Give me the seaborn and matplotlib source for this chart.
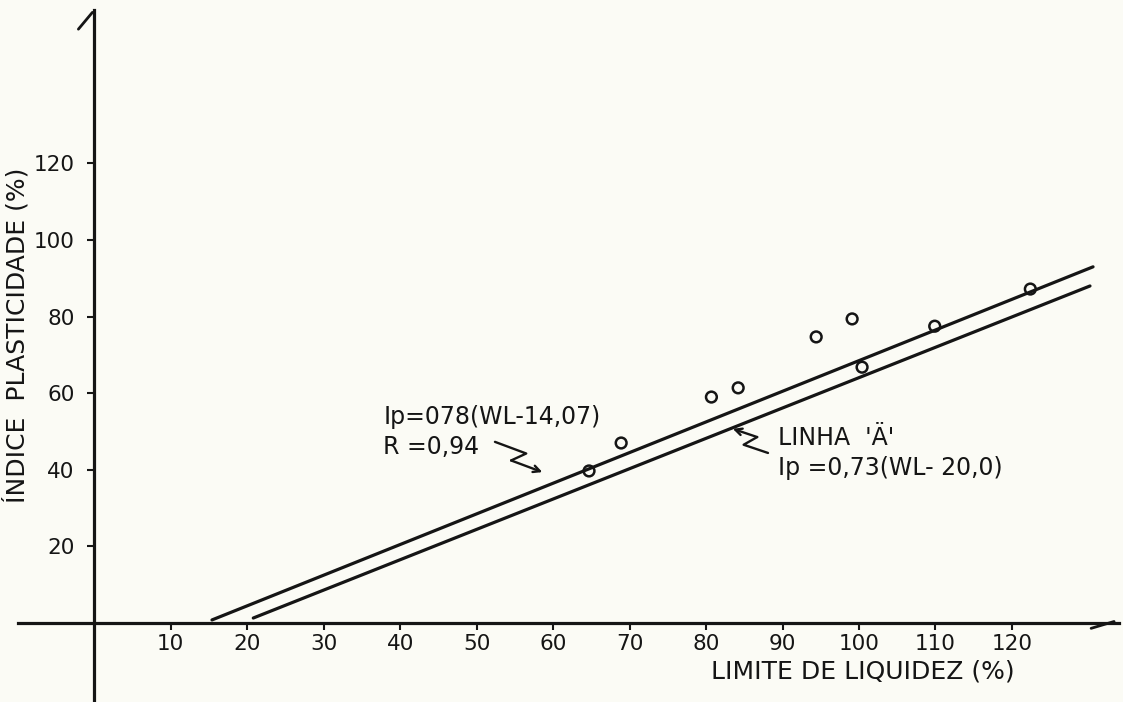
import numpy as np
import pandas as pd
import matplotlib
matplotlib.use("Agg")
import matplotlib.pyplot as plt
import seaborn as sns

# ---------------- data ----------------
liquid_limit = [64.7, 68.9, 80.7, 84.2, 94.4, 99.1, 100.4, 109.9, 122.4]
plasticity_index = [39.7, 47.0, 59.0, 61.4, 74.7, 79.4, 66.8, 77.5, 87.2]

regression_wl = [15.4, 130.6]
regression_ip = [0.8, 93.0]
linha_a_wl = [20.8, 130.2]
linha_a_ip = [1.3, 88.0]

x_ticks = [10, 20, 30, 40, 50, 60, 70, 80, 90, 100, 110, 120]
y_ticks = [20, 40, 60, 80, 100, 120]

x_label = "LIMITE DE LIQUIDEZ (%)"
y_label = "ÍNDICE  PLASTICIDADE (%)"
reg_text = ["Ip=078(WL-14,07)", "R =0,94"]
linha_text = ["LINHA  'Ä'", "Ip =0,73(WL- 20,0)"]

# ---------------- style ----------------
sns.set_theme(style="white")
plt.rcParams["font.family"] = ["DejaVu Sans"]
ink = "#151515"
paper = "#fbfbf5"

fig = plt.figure(figsize=(11.23, 7.02), dpi=100, facecolor=paper)
ax = fig.add_axes([0.01578, 0.00342, 0.9807, 0.982])
ax.set_facecolor(paper)
ax.set_xlim(-10, 134)
ax.set_ylim(-20, 160)

pts = pd.DataFrame({"wl": liquid_limit, "ip": plasticity_index})
reg = pd.DataFrame({"wl": regression_wl, "ip": regression_ip})
lin = pd.DataFrame({"wl": linha_a_wl, "ip": linha_a_ip})

sns.lineplot(data=reg, x="wl", y="ip", ax=ax, color=ink, lw=2.3,
             estimator=None, sort=False)
sns.lineplot(data=lin, x="wl", y="ip", ax=ax, color=ink, lw=2.3,
             estimator=None, sort=False)
sns.scatterplot(data=pts, x="wl", y="ip", ax=ax, s=60, marker="o",
                facecolor="none", edgecolor=ink, linewidth=1.8, zorder=5)

# axes drawn as crossing lines at zero
for s in ["top", "right"]:
    ax.spines[s].set_visible(False)
for s in ["left", "bottom"]:
    ax.spines[s].set_position(("data", 0))
    ax.spines[s].set_color(ink)
    ax.spines[s].set_linewidth(2.3)

ax.set_xticks(x_ticks)
ax.set_xticklabels([str(v) for v in x_ticks])
ax.set_yticks(y_ticks)
ax.set_yticklabels([str(v) for v in y_ticks])
ax.tick_params(axis="x", direction="out", length=5, width=1.5, color=ink,
               labelsize=15.5, labelcolor=ink, pad=3, bottom=True)
ax.tick_params(axis="y", direction="out", length=5, width=1.5, color=ink,
               labelsize=15.5, labelcolor=ink, pad=9, left=True)

ax.set_xlabel(x_label, fontsize=18, color=ink)
ax.xaxis.set_label_coords(0.7676, 0.058)
ax.set_ylabel(y_label, fontsize=18, color=ink)
ax.yaxis.set_label_coords(0.0105, 0.528)

# axis arrow ends (hand-drawn style barbs)
ax.annotate("", xy=(133.7, 0.6), xytext=(130.0, -1.6),
            arrowprops=dict(arrowstyle="-", lw=2.0, color=ink))
ax.annotate("", xy=(0, 160), xytext=(-2.3, 154.5),
            arrowprops=dict(arrowstyle="-", lw=2.0, color=ink))

# annotations
ax.text(37.8, 53.8, reg_text[0], fontsize=17, color=ink, ha="left", va="center")
ax.text(37.8, 46.0, reg_text[1], fontsize=17, color=ink, ha="left", va="center")
ax.text(89.4, 48.3, linha_text[0], fontsize=17, color=ink, ha="left", va="center")
ax.text(89.4, 40.5, linha_text[1], fontsize=17, color=ink, ha="left", va="center")


def zigzag(start, end, amp=7.0):
    """Lightning-style leader from start to end (data coords)."""
    t = ax.transData
    s = np.array(t.transform(start))
    e = np.array(t.transform(end))
    d = e - s
    n = np.array([-d[1], d[0]]) / np.hypot(*d)
    p1 = s + 0.58 * d + n * amp
    p2 = s + 0.42 * d - n * amp
    inv = t.inverted()
    q = inv.transform(np.vstack([s, p1, p2]))
    ax.plot(q[:, 0], q[:, 1], color=ink, lw=1.7)
    ax.annotate("", xy=end, xytext=tuple(q[2]),
                arrowprops=dict(arrowstyle="->", lw=1.7, color=ink,
                                mutation_scale=12, shrinkA=0, shrinkB=0))


zigzag((52.4, 47.3), (58.6, 39.4))
zigzag((88.1, 44.4), (83.5, 50.7))

fig.savefig("out.png", dpi=100, facecolor=paper)
